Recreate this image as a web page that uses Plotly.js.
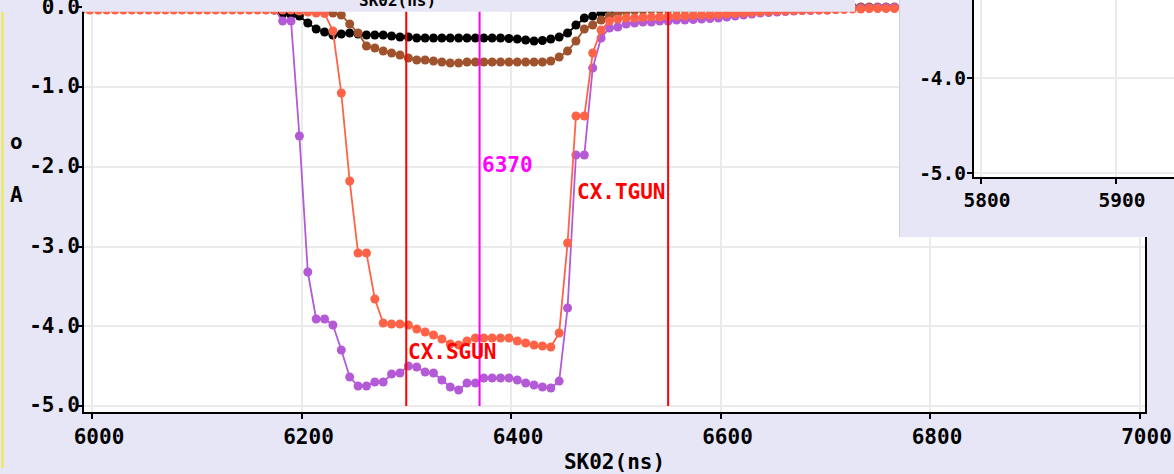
<!DOCTYPE html>
<html><head><meta charset="utf-8">
<script src="https://cdn.plot.ly/plotly-3.0.1.min.js"></script>
<style>html,body{margin:0;padding:0;background:#e6e6f6;overflow:hidden}#chart{width:1174px;height:474px}</style>
</head><body><div id="chart"></div>
<script>
// sample times (ns)
const timeNs = [5990,5998,6006,6014,6022,6030,6038,6046,6054,6062,6070,6078,6086,6094,6102,6110,6118,6126,6134,6142,6150,6158,6166,6174,
6182,6190,6198,6206,6214,6222,6230,6238,6246,6254,6262,6270,6278,6286,6294,6302,6310,6318,6326,6334,6342,6350,6358,6366,6374,6382,6390,6398,6406,6414,6422,6430,6438,6446,6454,6462,6470,6478,6486,6494,6502,6510,6518,6526,6534,6542,6550,6558,6566,6574,6582,6590,6598,6606,6614,6622,6630,6638,6646,6654,6662,6670,6678,6686,6694,6702,6710,6718,6726,6734,6742,6750,6758,6766];

const purpleA = [-0.009,-0.009,-0.009,-0.009,-0.009,-0.009,-0.009,-0.009,-0.009,-0.009,-0.009,-0.009,-0.009,-0.009,-0.009,-0.009,-0.009,-0.009,-0.009,-0.009,-0.009,-0.009,-0.009,-0.022,
-0.172,-0.172,-1.614,-3.320,-3.909,-3.909,-3.984,-4.298,-4.636,-4.749,-4.749,-4.699,-4.699,-4.599,-4.586,-4.498,-4.511,-4.574,-4.586,-4.674,-4.762,-4.799,-4.712,-4.712,-4.649,-4.649,-4.649,-4.649,-4.674,-4.712,-4.737,-4.762,-4.774,-4.687,-3.771,-1.853,-1.853,-0.762,-0.386,-0.260,-0.248,
-0.210,-0.197,-0.185,-0.185,-0.172,-0.172,-0.160,-0.160,-0.154,-0.147,-0.141,-0.135,-0.122,-0.110,-0.097,-0.085,-0.072,-0.066,-0.060,-0.053,-0.047,-0.041,-0.041,-0.034,-0.034,-0.028,-0.022,-0.016,-0.009,-0.009,-0.003,-0.003,-0.003];

const orangeA = [-0.034,-0.034,-0.034,-0.034,-0.034,-0.034,-0.034,-0.034,-0.034,-0.034,-0.034,-0.034,-0.034,-0.034,-0.034,-0.034,-0.034,-0.034,-0.034,-0.034,-0.034,-0.034,-0.034,-0.034,-0.034,-0.034,
-0.047,-0.060,-0.072,-0.078,-0.298,-1.075,-2.179,-3.081,-3.081,-3.658,-3.959,-3.972,-3.972,-3.984,-4.034,-4.072,-4.110,-4.160,-4.222,-4.235,-4.185,-4.147,-4.147,-4.147,-4.147,-4.147,-4.185,-4.210,-4.235,-4.247,-4.260,-4.085,-2.956,-1.364,-1.364,-0.574,-0.285,-0.172,
-0.147,-0.135,-0.135,-0.129,-0.122,-0.122,-0.116,-0.110,-0.110,-0.103,-0.097,-0.097,-0.091,-0.085,-0.078,-0.072,-0.066,-0.060,-0.053,-0.047,-0.047,-0.041,-0.041,-0.034,-0.034,-0.034,-0.028,-0.028,-0.022,-0.022,-0.016,-0.016,-0.016,-0.016];

const blackA = [-0.003,-0.003,-0.003,-0.003,-0.003,-0.003,-0.003,-0.003,-0.003,-0.003,-0.003,-0.003,-0.003,-0.003,-0.003,-0.003,-0.003,-0.003,-0.003,-0.003,-0.003,-0.003,-0.003,-0.034,
-0.085,-0.097,-0.110,-0.197,-0.273,-0.310,-0.348,-0.335,-0.323,-0.335,-0.348,-0.348,-0.348,-0.361,-0.373,-0.373,-0.386,
-0.386,-0.386,-0.386,-0.386,-0.386,-0.386,-0.386,-0.386,-0.386,-0.386,
-0.392,-0.398,-0.411,-0.423,-0.417,-0.398,-0.373,-0.323,-0.223,-0.135,-0.110,-0.072,-0.047,-0.034,-0.028,-0.022,
-0.016,-0.016,-0.016,-0.016,-0.016,-0.016,-0.016,-0.016,
-0.009,-0.009,-0.009,-0.009,-0.009,-0.009,-0.009,-0.009,-0.009,-0.009,
-0.003,-0.003,-0.003,-0.003,-0.003,-0.003,-0.003,-0.003,-0.003,-0.003,-0.003,-0.003,-0.003];

const brownA = [-0.009,-0.009,-0.009,-0.009,-0.009,-0.009,-0.009,-0.009,-0.009,-0.009,-0.009,-0.009,-0.009,-0.009,-0.009,-0.009,-0.009,-0.009,-0.009,-0.009,-0.009,-0.009,-0.009,-0.009,-0.009,-0.009,-0.009,-0.009,
-0.034,-0.047,-0.072,-0.097,-0.210,-0.323,-0.486,-0.511,-0.549,-0.574,-0.599,-0.636,-0.661,-0.661,-0.674,-0.687,-0.699,-0.699,
-0.687,-0.687,-0.687,-0.687,-0.687,-0.687,-0.687,-0.687,-0.687,-0.687,
-0.674,-0.624,-0.549,-0.423,-0.273,-0.223,-0.160,-0.110,-0.072,-0.053,-0.041,-0.034,
-0.028,-0.028,-0.028,-0.028,-0.028,-0.028,-0.028,-0.028,-0.028,-0.028,-0.028,-0.028,
-0.022,-0.022,-0.022,-0.022,-0.022,-0.022,-0.022,-0.022,-0.022,-0.022,
0.003,0.003,0.003,0.003,0.003,0.003,0.003,0.003];

const xTickVals = [6000,6200,6400,6600,6800,7000];
const yTickVals = [-5,-4,-3,-2,-1,0];
const yTickText = ["-5.0","-4.0","-3.0","-2.0","-1.0","0.0"];
const insetXTickVals = [5800,5900];
const insetYTickVals = [-5,-4];
const insetYTickText = ["-5.0","-4.0"];
const cursorX = [6300,6550,6370];
const cursorColors = ["#ff0000","#ff0000","#ff00ff"];
const cursorLabels = ["CX.SGUN","CX.TGUN","6370"];
const cursorLabelY = [-4.323,-2.317,-1.978];
const cursorLabelAnchor = ["left","right","left"];

const W = 1174, H = 474;
const px = v => v / W;
const py = v => 1 - v / H;
const LAV = "#e6e6f6";
const FONT = "DejaVu Sans Mono";
const GRID = "#ebebeb";

function series(y, color) {
  return {x: timeNs, y: y, type: "scatter", mode: "lines+markers", xaxis: "x", yaxis: "y",
    line: {color: color, width: 1.8}, marker: {color: color, size: 9}, hoverinfo: "skip", showlegend: false};
}
const traces = [
  series(blackA, "#000000"),
  series(brownA, "#a0522d"),
  series(purpleA, "#b45ad6"),
  series(orangeA, "#ff6347"),
  {x: [], y: [], type: "scatter", xaxis: "x2", yaxis: "y2", showlegend: false, hoverinfo: "skip"},
  {x: [], y: [], type: "scatter", xaxis: "x3", yaxis: "y3", showlegend: false, hoverinfo: "skip"}
];

const shapes = [];
cursorX.forEach((cx, i) => shapes.push({type: "line", xref: "x", yref: "y", x0: cx, x1: cx, y0: -5.0, y1: 0.2,
  line: {color: cursorColors[i], width: 2}, layer: "above"}));
// banner of the window above
shapes.push({type: "rect", xref: "paper", yref: "paper", x0: px(82), x1: px(855), y0: py(11.8), y1: 1.02,
  fillcolor: LAV, line: {width: 0}, layer: "above"});
// yellow edge at left
shapes.push({type: "rect", xref: "paper", yref: "paper", x0: px(1.5), x1: px(3.5), y0: py(468), y1: py(12),
  fillcolor: "#eeee3a", line: {width: 0}, layer: "below"});
// inset window background
shapes.push({type: "rect", xref: "x2", yref: "y2", x0: -1, x1: 2, y0: -1, y1: 2,
  fillcolor: LAV, line: {width: 0}, layer: "below"});
shapes.push({type: "line", xref: "x2", yref: "y2", x0: 0.002, x1: 0.002, y0: 0, y1: 1,
  line: {color: "#cfcfdc", width: 1}, layer: "below"});

const annotations = [];
cursorX.forEach((cx, i) => annotations.push({xref: "x", yref: "y", x: cx, y: cursorLabelY[i], text: cursorLabels[i],
  xanchor: cursorLabelAnchor[i], yanchor: "middle", showarrow: false,
  font: {family: FONT, size: 21, weight: 700, color: cursorColors[i]}}));
annotations.push({xref: "paper", yref: "paper", x: px(16), y: py(142), text: "o", showarrow: false,
  xanchor: "center", yanchor: "middle", font: {family: FONT, size: 21, weight: 700, color: "#000"}});
annotations.push({xref: "paper", yref: "paper", x: px(16), y: py(195), text: "A", showarrow: false,
  xanchor: "center", yanchor: "middle", font: {family: FONT, size: 21, weight: 700, color: "#000"}});
annotations.push({xref: "paper", yref: "paper", x: px(397), y: py(12), text: "SK02(ns)", showarrow: false,
  xanchor: "center", yanchor: "bottom", font: {family: FONT, size: 16, weight: 700, color: "#000"}});

const axFont = {family: FONT, size: 21, weight: 700, color: "#000"};
const axCommon = {showline: true, linewidth: 2, linecolor: "#000", ticks: "outside", ticklen: 5, tickwidth: 2,
  tickcolor: "#000", showgrid: true, gridcolor: GRID, gridwidth: 2, zeroline: false, fixedrange: true,
  automargin: false, ticklabeloverflow: "allow"};

const layout = {
  width: W, height: H, margin: {l: 0, r: 0, t: 0, b: 0},
  paper_bgcolor: LAV, plot_bgcolor: "#ffffff", showlegend: false, hovermode: false,
  xaxis: Object.assign({}, axCommon, {domain: [px(84), px(1145)], range: [5992.36, 7005.25], anchor: "y",
    tickmode: "array", tickvals: xTickVals, tickfont: axFont, mirror: true, ticklabelshift: 7,
    title: {text: "SK02(ns)", font: axFont, standoff: 6}}),
  yaxis: Object.assign({}, axCommon, {domain: [py(412), 1], range: [-5.075, 0.091], anchor: "x",
    tickmode: "array", tickvals: yTickVals, ticktext: yTickText, tickfont: axFont, mirror: true,
    ticklabelstandoff: -7, ticklabelshift: -1}),
  xaxis2: {domain: [px(899), 1], range: [0, 1], anchor: "y2", visible: false, fixedrange: true},
  yaxis2: {domain: [py(237), 1], range: [0, 1], anchor: "x2", visible: false, fixedrange: true},
  xaxis3: Object.assign({}, axCommon, {domain: [px(974), 1], range: [5794.8, 5942.95], anchor: "y3",
    tickmode: "array", tickvals: insetXTickVals, tickfont: Object.assign({}, axFont, {size: 19.5}), ticklabelshift: 6}),
  yaxis3: Object.assign({}, axCommon, {domain: [py(177), 1], range: [-5.042, -3.179], anchor: "x3",
    tickmode: "array", tickvals: insetYTickVals, ticktext: insetYTickText, tickfont: Object.assign({}, axFont, {size: 19.5}),
    ticklabelstandoff: -3}),
  shapes: shapes,
  annotations: annotations
};

Plotly.newPlot("chart", traces, layout, {displayModeBar: false, staticPlot: true});
</script>
</body></html>
